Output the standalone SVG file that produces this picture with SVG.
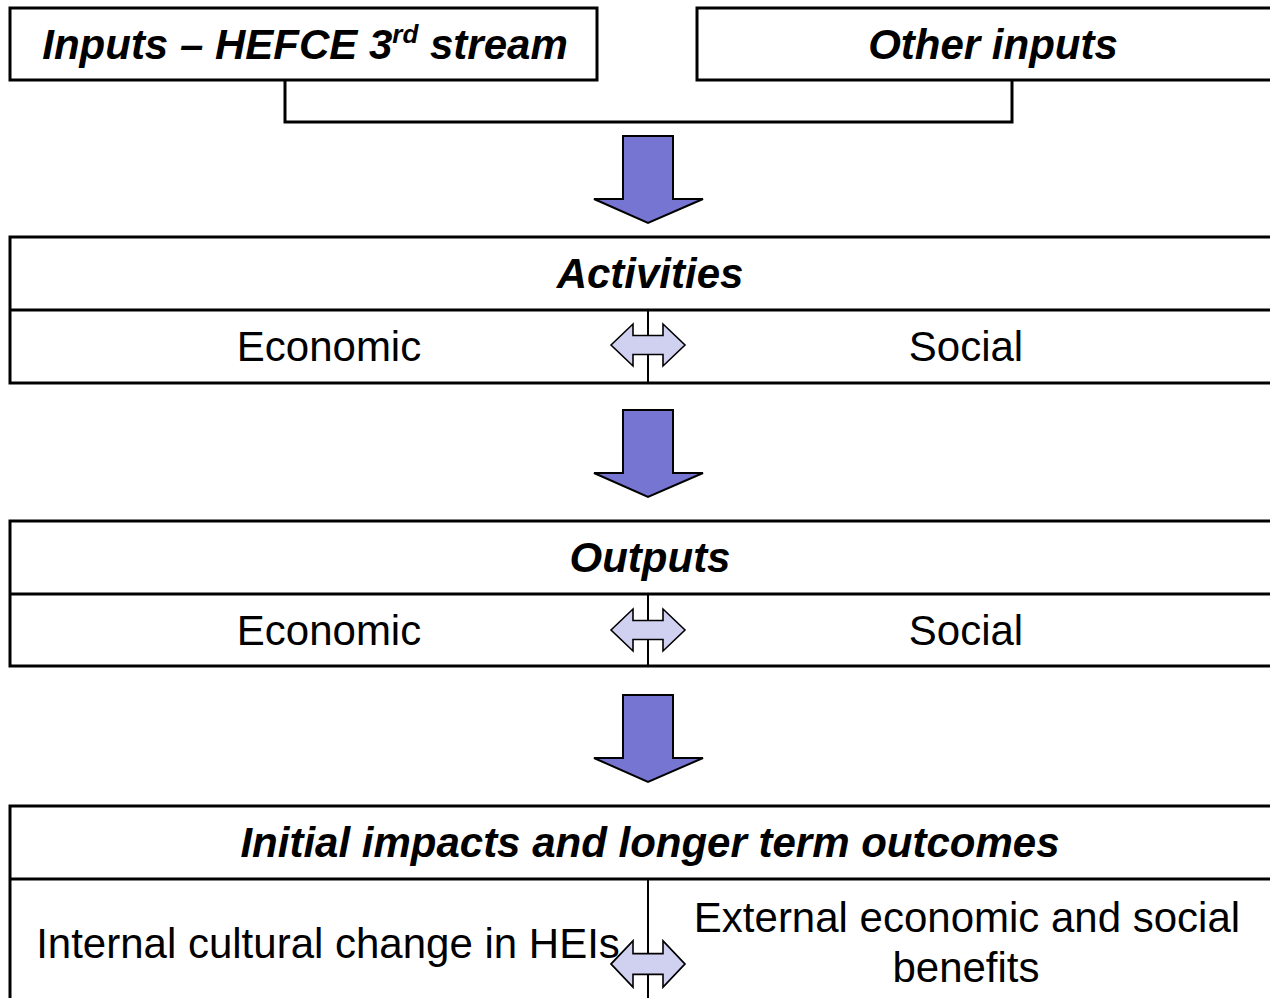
<svg xmlns="http://www.w3.org/2000/svg" xmlns:xlink="http://www.w3.org/1999/xlink" width="1270" height="998" viewBox="0 0 1270 998">
<style>
.box{fill:#fff;stroke:#000;stroke-width:3}
.div{fill:none;stroke:#000;stroke-width:3}
.vline{fill:none;stroke:#000;stroke-width:2}
.conn{fill:none;stroke:#000;stroke-width:3}
.blk{fill:#7676D2;stroke:#000;stroke-width:2;stroke-linejoin:miter}
.dbl{fill:#D0D0F0;stroke:#000;stroke-width:1.6}
.t{font-family:"Liberation Sans",Arial,sans-serif;font-size:42px;fill:#000;text-anchor:middle}
.h{font-weight:bold;font-style:italic}
</style>
<defs>
<path id="dblarrow" class="dbl" d="M-37,0 L-15,-21 L-15,-9.5 L15,-9.5 L15,-21 L37,0 L15,21 L15,9.5 L-15,9.5 L-15,21 Z"/>
<path id="blkarrow" class="blk" d="M623,0 L673,0 L673,63 L703,63 L648,87 L594,63 L623,63 Z"/>
</defs>
<g id="connectors">
<polyline class="conn" points="285,80 285,122 1012,122 1012,80"/>
<use xlink:href="#blkarrow" transform="translate(0,136)"/>
<use xlink:href="#blkarrow" transform="translate(0,410)"/>
<use xlink:href="#blkarrow" transform="translate(0,695)"/>
</g>
<g id="inputs-hefce">
<rect class="box" x="10" y="8" width="587" height="72"/>
<text class="t h" x="305" y="59">Inputs – HEFCE 3<tspan font-size="26" dy="-16">rd</tspan><tspan dy="16"> stream</tspan></text>
</g>
<g id="other-inputs">
<rect class="box" x="697" y="8" width="600" height="72"/>
<text class="t h" x="993" y="59">Other inputs</text>
</g>
<g id="activities">
<rect class="box" x="10" y="237" width="1290" height="146"/>
<line class="div" x1="10" y1="310" x2="1300" y2="310"/>
<line class="vline" x1="648" y1="310" x2="648" y2="383"/>
<use xlink:href="#dblarrow" transform="translate(648,345)"/>
<text class="t h" x="650" y="288">Activities</text>
<text class="t" x="329" y="361">Economic</text>
<text class="t" x="966" y="361">Social</text>
</g>
<g id="outputs">
<rect class="box" x="10" y="521" width="1290" height="145"/>
<line class="div" x1="10" y1="594" x2="1300" y2="594"/>
<line class="vline" x1="648" y1="594" x2="648" y2="666"/>
<use xlink:href="#dblarrow" transform="translate(648,630)"/>
<text class="t h" x="650" y="572">Outputs</text>
<text class="t" x="329" y="645">Economic</text>
<text class="t" x="966" y="645">Social</text>
</g>
<g id="impacts">
<rect class="box" x="10" y="806" width="1290" height="220"/>
<line class="div" x1="10" y1="879" x2="1300" y2="879"/>
<line class="vline" x1="648" y1="879" x2="648" y2="998"/>
<use xlink:href="#dblarrow" transform="translate(648,964) scale(1,1.1)"/>
<text class="t h" x="650" y="857">Initial impacts and longer term outcomes</text>
<text class="t" x="328" y="958">Internal cultural change in HEIs</text>
<text class="t" x="967" y="932">External economic and social</text>
<text class="t" x="966" y="982">benefits</text>
</g>
</svg>
